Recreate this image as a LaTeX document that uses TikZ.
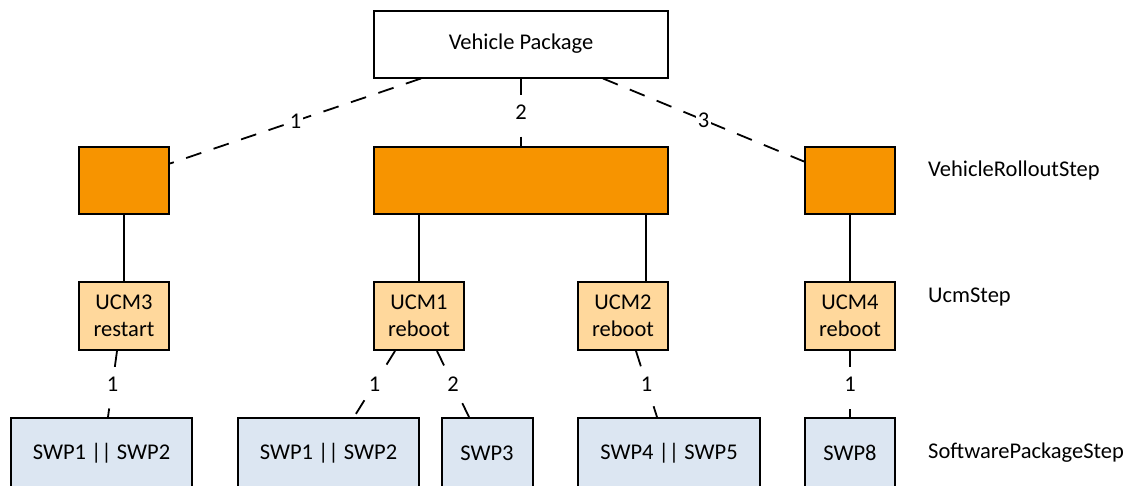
\documentclass[tikz,border=0pt]{standalone}
\usepackage{fontspec}
\setmainfont{Carlito}
\definecolor{rollout}{HTML}{F79400}
\definecolor{ucmfill}{HTML}{FFD89C}
\definecolor{swpfill}{HTML}{DCE6F2}
\tikzset{
  box/.style={draw, line width=2pt, rectangle, inner sep=0pt, align=center},
  rolloutbox/.style={box, fill=rollout, minimum height=67pt},
  ucmbox/.style={box, fill=ucmfill, minimum width=90pt, minimum height=68pt},
  swpbox/.style={box, fill=swpfill, minimum height=70pt},
  link/.style={line width=1.8pt},
  seq/.style={line width=1.8pt, dash pattern=on 16pt off 13pt},
  num/.style={fill=white, inner xsep=2pt, inner ysep=3pt},
  numtall/.style={num, inner ysep=6pt},
  layer/.style={anchor=west, inner sep=0pt}
}
\begin{document}
\begin{tikzpicture}[x=1pt,y=-1pt,font=\fontsize{22.5}{27}\selectfont]
\useasboundingbox (0,0) rectangle (1129,485);
\clip (0,0) rectangle (1129,485);
% top package
\node[box, minimum width=294pt, minimum height=67pt] (vp) at (521,44) {Vehicle Package};
% vehicle rollout steps
\node[rolloutbox, minimum width=90pt] (vrsA) at (124,180) {};
\node[rolloutbox, minimum width=294pt] (vrsB) at (521,180) {};
\node[rolloutbox, minimum width=90pt] (vrsC) at (850,180) {};
% ucm steps
\node[ucmbox] (ucm3) at (124,316) {UCM3\\restart};
\node[ucmbox] (ucm1) at (419,316) {UCM1\\reboot};
\node[ucmbox] (ucm2) at (623,316) {UCM2\\reboot};
\node[ucmbox] (ucm4) at (850,316) {UCM4\\reboot};
% software package steps
\node[swpbox, minimum width=181pt] (swpA) at (101.5,453) {SWP1 || SWP2};
\node[swpbox, minimum width=181pt] (swpB) at (328.5,453) {SWP1 || SWP2};
\node[swpbox, minimum width=91pt] (swpC) at (487,453) {SWP3};
\node[swpbox, minimum width=182pt] (swpD) at (669,453) {SWP4 || SWP5};
\node[swpbox, minimum width=90pt] (swpE) at (850,453) {SWP8};
% layer names
\node[layer] (lblVrs) at (928,170) {VehicleRolloutStep};
\node[layer] (lblUcm) at (928,297) {UcmStep};
\node[layer] (lblSwp) at (928,453) {SoftwarePackageStep};
% package -> rollout steps
\draw[seq] ([xshift=-100pt]vp.south) -- node[num] {1} ([yshift=16.5pt]vrsA.east);
\draw[seq] (vp.south) -- node[numtall] {2} (vrsB.north);
\draw[seq] ([xshift=82pt]vp.south) -- node[num] {3} ([yshift=18.5pt]vrsC.west);
% rollout steps -> ucm steps
\coordinate (ucm2top) at ([xshift=23pt]ucm2.north);
\draw[link] (vrsA.south) -- (ucm3.north);
\draw[link] (vrsB.south -| ucm1.north) -- (ucm1.north);
\draw[link] (vrsB.south -| ucm2top) -- (ucm2top);
\draw[link] (vrsC.south) -- (ucm4.north);
% ucm steps -> software package steps
\draw[seq] ([xshift=-7pt]ucm3.south) -- node[numtall] {1} ([xshift=6.5pt]swpA.north);
\draw[seq] ([xshift=-24pt]ucm1.south) -- node[numtall] {1} ([xshift=25.5pt]swpB.north);
\draw[seq] ([xshift=18pt]ucm1.south) -- node[numtall] {2} ([xshift=-18pt]swpC.north);
\draw[seq] ([xshift=13pt]ucm2.south) -- node[numtall] {1} ([xshift=-12pt]swpD.north);
\draw[seq] (ucm4.south) -- node[numtall] {1} (swpE.north);
\end{tikzpicture}
\end{document}
